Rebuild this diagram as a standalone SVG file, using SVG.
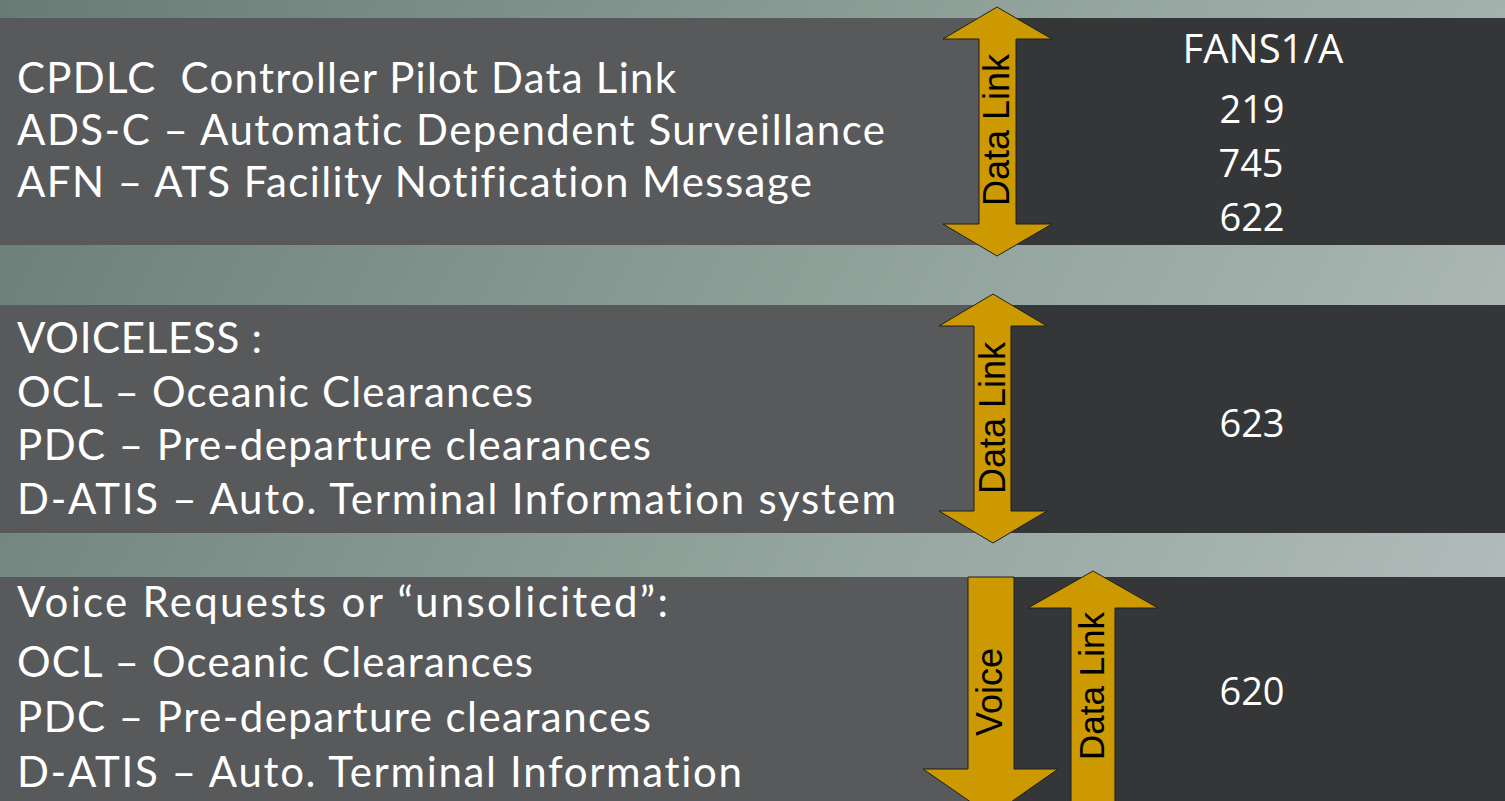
<svg xmlns="http://www.w3.org/2000/svg" width="1505" height="801" viewBox="0 0 1505 801">
  <defs>
    <linearGradient id="bg" gradientUnits="userSpaceOnUse" x1="0" y1="0" x2="1505" y2="801">
      <stop offset="0" stop-color="#687c75"/>
      <stop offset="0.5" stop-color="#8fa099"/>
      <stop offset="1" stop-color="#b4bfbd"/>
    </linearGradient>
    <style>
      .lbox { fill: #58595b; }
      .rbox { fill: #353638; }
      .t { font-family: Lato, "Open Sans", "Liberation Sans", sans-serif; font-size: 42px; fill: #ffffff; font-variant-ligatures: none; font-feature-settings: "liga" 0, "dlig" 0; }
      .n { font-family: "Open Sans", "Liberation Sans", sans-serif; font-size: 38px; fill: #ffffff; text-anchor: middle; }
      .arrow { fill: #cc9900; stroke: #1f1f1f; stroke-width: 1; stroke-linejoin: miter; }
      .al { font-family: "Liberation Sans", Arial, sans-serif; font-size: 36px; fill: #000000; text-anchor: middle; }
    </style>
  </defs>
  <rect x="0" y="0" width="1505" height="801" fill="url(#bg)"/>

  <g id="band1">
    <rect class="lbox" x="0" y="18" width="997" height="227"/>
    <rect class="rbox" x="997" y="18" width="508" height="227"/>
    <text class="t" x="17" y="93" textLength="659" xml:space="preserve">CPDLC  Controller Pilot Data Link</text>
    <text class="t" x="17" y="145" textLength="868">ADS-C – Automatic Dependent Surveillance</text>
    <text class="t" x="17" y="197" textLength="795">AFN – ATS Facility Notification Message</text>
    <text class="n" x="1263" y="63" style="font-size:40px">FANS1/A</text>
    <text class="n" x="1252" y="123">219</text>
    <text class="n" x="1251" y="177">745</text>
    <text class="n" x="1252" y="231">622</text>
  </g>

  <g id="band2">
    <rect class="lbox" x="0" y="305" width="993" height="228"/>
    <rect class="rbox" x="993" y="305" width="512" height="228"/>
    <text class="t" x="17" y="353" textLength="245">VOICELESS :</text>
    <text class="t" x="17" y="407" textLength="516">OCL – Oceanic Clearances</text>
    <text class="t" x="17" y="460" textLength="634">PDC – Pre-departure clearances</text>
    <text class="t" x="17" y="514" textLength="879">D-ATIS – Auto. Terminal Information system</text>
    <text class="n" x="1252" y="437">623</text>
  </g>

  <g id="band3">
    <rect class="lbox" x="0" y="577" width="991" height="224"/>
    <rect class="rbox" x="991" y="577" width="514" height="224"/>
    <text class="t" x="17" y="617" textLength="651">Voice Requests or “unsolicited”:</text>
    <text class="t" x="17" y="677" textLength="516">OCL – Oceanic Clearances</text>
    <text class="t" x="17" y="732" textLength="634">PDC – Pre-departure clearances</text>
    <text class="t" x="17" y="787" textLength="725">D-ATIS – Auto. Terminal Information</text>
    <text class="n" x="1252" y="705">620</text>
  </g>

  <g id="connectors">
    <g id="arrow-datalink-1">
      <polygon class="arrow" points="997,7 1052,39 1016,39 1016,224 1052,224 997,256 943,224 979,224 979,39 943,39"/>
      <text class="al" transform="translate(1009,130) rotate(-90)">Data Link</text>
    </g>
    <g id="arrow-datalink-2">
      <polygon class="arrow" points="993,294 1047,326 1011,326 1011,511 1047,511 993,543 939,511 974,511 974,326 939,326"/>
      <text class="al" transform="translate(1005,418) rotate(-90)">Data Link</text>
    </g>
    <g id="arrow-voice">
      <polygon class="arrow" points="968,577 1014,577 1014,769 1058,769 991,816 923,769 968,769"/>
      <text class="al" transform="translate(1002,692) rotate(-90)">Voice</text>
    </g>
    <g id="arrow-datalink-3">
      <polygon class="arrow" points="1093,571 1158,608 1115,608 1115,810 1071,810 1071,608 1028,608"/>
      <text class="al" style="font-size:35px" transform="translate(1104,686) rotate(-90)">Data Link</text>
    </g>
  </g>
</svg>
